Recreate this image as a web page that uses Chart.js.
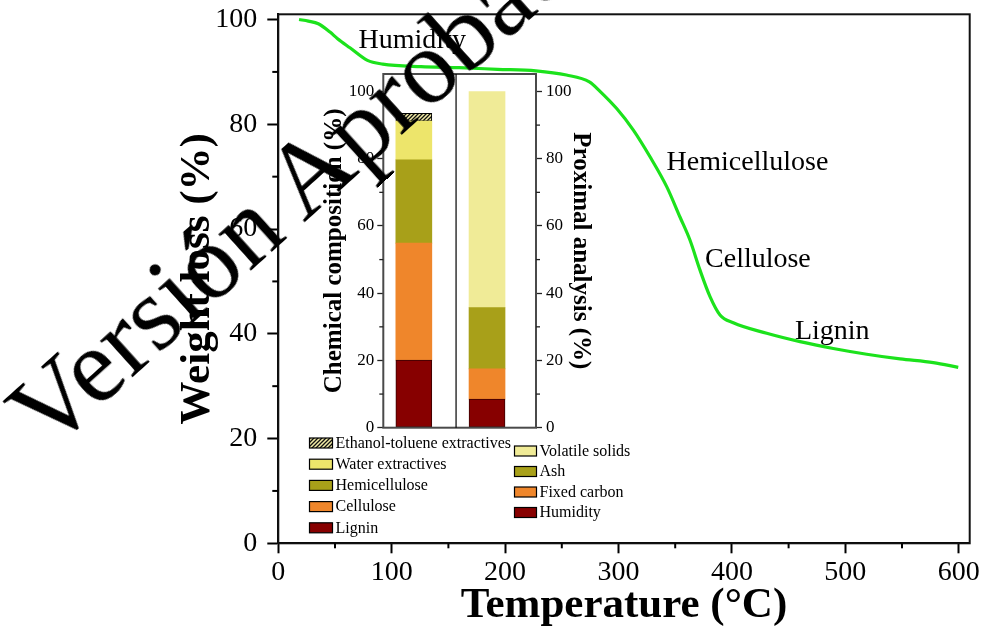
<!DOCTYPE html>
<html><head><meta charset="utf-8">
<script src="https://cdn.jsdelivr.net/npm/chart.js@4.4.1/dist/chart.umd.min.js"></script>
<style>
html,body{margin:0;padding:0;background:#fff;width:981px;height:627px;overflow:hidden;}
#wrap{position:relative;width:981px;height:627px;}
canvas{position:absolute;left:0;top:0;}
#main{z-index:1;} #inset{z-index:2;}
#wm{position:absolute;left:-11.4px;top:388px;font-family:'Liberation Serif','Times New Roman',serif;font-size:106px;line-height:106px;white-space:nowrap;transform-origin:0 0;transform:rotate(-42deg);color:#000;z-index:3;pointer-events:none;}
</style></head>
<body><div id="wrap">
<canvas id="main" width="981" height="627"></canvas>
<canvas id="inset" width="981" height="627"></canvas>
<div id="wm">Versión Aprobada</div>
</div>
<script>
// ---------- DATA ----------
const temperature = [18.3, 26.5, 35.3, 45.6, 52, 63.2, 78.6, 92.1, 125.8, 159.5, 193.3, 227.1, 254.1, 274.3, 283.7, 298.4, 313.1, 327.8, 342.5, 354.2, 363.0, 371.8, 380.7, 389.5, 401.2, 430.7, 460.1, 489.4, 518.9, 548.3, 577.6, 599.6];
const weightLoss  = [100, 99.7, 99.2, 97.6, 96.4, 94.6, 92.2, 91.5, 91.0, 90.8, 90.5, 90.2, 89.4, 88.1, 86.3, 83.0, 78.9, 73.8, 68.1, 62.3, 57.9, 52.2, 47.1, 43.6, 42.1, 40.1, 38.5, 37.2, 36.1, 35.2, 34.5, 33.6];

const stageLabels = ['Humidity', 'Hemicellulose', 'Cellulose', 'Lignin'];
const stageT = [70.8, 342.4, 376.3, 455.6];
const stageW = [94.5, 71.2, 52.8, 39.1];

const chemLabels = ['Lignin', 'Cellulose', 'Hemicellulose', 'Water extractives', 'Ethanol-toluene extractives'];
const chemValues = [20.1, 34.8, 24.8, 11.5, 2.3];
const proxLabels = ['Humidity', 'Fixed carbon', 'Ash', 'Volatile solids'];
const proxValues = [8.5, 9.0, 18.2, 64.3];
const barPositions = [1, 2];          // chemical composition bar, proximal analysis bar
const dividerX = 1.577;

const mainXTicks = [0, 100, 200, 300, 400, 500, 600];
const mainYTicks = [0, 20, 40, 60, 80, 100];
const insetYTicks = [0, 20, 40, 60, 80, 100];
const mainMinorX = [50, 150, 250, 350, 450, 550];
const mainMinorY = [10, 30, 50, 70, 90];
const insetMinorY = [10, 30, 50, 70, 90];

// ---------- STYLE ----------
const SERIF = "'Liberation Serif','Times New Roman',serif";
const chemColors = ['#870000', '#EF862B', '#A8A019', '#EDE56B', null];
const proxColors = ['#870000', '#EF862B', '#A8A019', '#F0EB97'];

function setTicks(values) {
  return function (s) { s.ticks = values.map(v => ({ value: v })); };
}

function hatchPattern(ctx) {
  const c = document.createElement('canvas');
  c.width = 4; c.height = 4;
  const g = c.getContext('2d');
  g.fillStyle = '#F3ECA6'; g.fillRect(0, 0, 4, 4);
  g.strokeStyle = '#111'; g.lineWidth = 1.3;
  g.beginPath();
  g.moveTo(0, 4); g.lineTo(4, 0);
  g.moveTo(-2, 2); g.lineTo(2, -2);
  g.moveTo(2, 6); g.lineTo(6, 2);
  g.stroke();
  return ctx.createPattern(c, 'repeat');
}

const framePlugin = {
  id: 'frame',
  afterDraw(chart, args, o) {
    const a = chart.chartArea, ctx = chart.ctx;
    ctx.save();
    ctx.strokeStyle = o.color; ctx.lineWidth = o.width;
    ctx.strokeRect(a.left, a.top, a.right - a.left, a.bottom - a.top);
    if (o.divider !== undefined) {
      const x = chart.scales.x.getPixelForValue(o.divider);
      ctx.strokeStyle = '#000'; ctx.lineWidth = 1.2;
      ctx.beginPath(); ctx.moveTo(x, a.top); ctx.lineTo(x, a.bottom); ctx.stroke();
    }
    ctx.restore();
  }
};

const minorPlugin = {
  id: 'minorTicks',
  afterDraw(chart, args, o) {
    const ctx = chart.ctx;
    ctx.save();
    ctx.strokeStyle = o.color || '#000'; ctx.lineWidth = o.width || 2;
    (o.items || []).forEach(it => {
      const s = chart.scales[it.scale];
      it.values.forEach(v => {
        const p = s.getPixelForValue(v);
        ctx.beginPath();
        if (s.isHorizontal()) { ctx.moveTo(p, s.top); ctx.lineTo(p, s.top + it.len); }
        else if (s.position === 'left') { ctx.moveTo(s.right, p); ctx.lineTo(s.right - it.len, p); }
        else { ctx.moveTo(s.left, p); ctx.lineTo(s.left + it.len, p); }
        ctx.stroke();
      });
    });
    ctx.restore();
  }
};

const stagePlugin = {
  id: 'stages',
  afterDraw(chart) {
    const ctx = chart.ctx, sx = chart.scales.x, sy = chart.scales.y;
    ctx.save();
    ctx.font = '28px ' + SERIF; ctx.fillStyle = '#000';
    ctx.textAlign = 'left'; ctx.textBaseline = 'alphabetic';
    stageLabels.forEach((t, i) => ctx.fillText(t, sx.getPixelForValue(stageT[i]), sy.getPixelForValue(stageW[i])));
    ctx.restore();
  }
};

const legendPlugin = {
  id: 'insetLegend',
  afterDraw(chart, args, o) {
    const ctx = chart.ctx;
    ctx.save();
    ctx.font = '16px ' + SERIF; ctx.textBaseline = 'middle'; ctx.textAlign = 'left';
    o.columns.forEach(col => {
      col.items.forEach((di, r) => {
        const ds = chart.data.datasets[di];
        const y = col.y0 + r * col.dy;
        ctx.fillStyle = ds.backgroundColor;
        ctx.fillRect(col.x, y - col.h / 2, col.w, col.h);
        ctx.strokeStyle = '#000'; ctx.lineWidth = 1.2;
        ctx.strokeRect(col.x, y - col.h / 2, col.w, col.h);
        ctx.fillStyle = '#000';
        ctx.fillText(ds.label, col.x + col.w + 3, y + 0.5);
      });
    });
    ctx.restore();
  }
};

// ---------- MAIN CHART ----------
new Chart(document.getElementById('main'), {
  type: 'line',
  data: { datasets: [{
    data: temperature.map((t, i) => ({ x: t, y: weightLoss[i] })),
    borderColor: 'rgb(28,226,28)', borderWidth: 3.2, pointRadius: 0,
    cubicInterpolationMode: 'monotone', fill: false
  }] },
  options: {
    responsive: false, animation: false, devicePixelRatio: 1,
    layout: { padding: { left: 0, top: 14.3, right: 11.3, bottom: 0 } },
    plugins: {
      legend: { display: false }, tooltip: { enabled: false },
      frame: { color: '#111', width: 2 },
      minorTicks: { width: 2, items: [ { scale: 'x', values: mainMinorX, len: 5 }, { scale: 'y', values: mainMinorY, len: 6 } ] }
    },
    scales: {
      x: {
        type: 'linear', min: 0, max: 609.7,
        afterBuildTicks: setTicks(mainXTicks),
        ticks: { autoSkip: false, maxRotation: 0, color: '#000', padding: 5, font: { family: SERIF, size: 28, lineHeight: 1 } },
        grid: { drawOnChartArea: false, tickLength: 10, tickColor: '#000', tickWidth: 2 },
        border: { color: '#000', width: 2 },
        title: { display: true, text: 'Temperature (°C)', color: '#000', padding: { top: 0, bottom: 0 }, font: { family: SERIF, size: 43, weight: 'bold', lineHeight: 1 } },
        afterFit(s) { s.height = 627 - 543.3; s.paddingLeft = 0; s.paddingRight = 0; }
      },
      y: {
        type: 'linear', min: 0, max: 101,
        afterBuildTicks: setTicks(mainYTicks),
        ticks: { autoSkip: false, color: '#000', padding: 10, font: { family: SERIF, size: 28, lineHeight: 1 } },
        grid: { drawOnChartArea: false, tickLength: 11, tickColor: '#000', tickWidth: 2 },
        border: { color: '#000', width: 2 },
        title: { display: true, text: 'Weight loss (%)', color: '#000', padding: { top: 176.5, bottom: 0 }, font: { family: SERIF, size: 43, weight: 'bold', lineHeight: 1 } },
        afterFit(s) { s.width = 278.3; s.paddingTop = 0; s.paddingBottom = 0; }
      }
    }
  },
  plugins: [framePlugin, minorPlugin, stagePlugin]
});

// ---------- INSET CHART ----------
const insetCanvas = document.getElementById('inset');
const hatch = hatchPattern(insetCanvas.getContext('2d'));
const insetDatasets = [];
chemLabels.forEach((lab, i) => insetDatasets.push({
  label: lab, yAxisID: 'y',
  data: [{ x: barPositions[0], y: chemValues[i] }],
  backgroundColor: chemColors[i] || hatch,
  borderColor: (i === 0) ? '#3a0000' : (i === 4 ? '#000' : 'rgba(0,0,0,0)'),
  borderWidth: (i === 0 || i === 4) ? 1 : 0,
  borderSkipped: false, barThickness: 36
}));
proxLabels.forEach((lab, i) => insetDatasets.push({
  label: lab, yAxisID: 'y2',
  data: [{ x: barPositions[1], y: proxValues[i] }],
  backgroundColor: proxColors[i],
  borderColor: (i === 0) ? '#3a0000' : 'rgba(0,0,0,0)',
  borderWidth: (i === 0) ? 1 : 0,
  borderSkipped: false, barThickness: 36
}));

const insetTickFont = { family: SERIF, size: 17, lineHeight: 1 };
new Chart(insetCanvas, {
  type: 'bar',
  data: { datasets: insetDatasets },
  options: {
    responsive: false, animation: false, devicePixelRatio: 1,
    layout: { padding: { left: 0, right: 0, top: 74, bottom: 627 - 427.7 } },
    plugins: {
      legend: { display: false }, tooltip: { enabled: false },
      frame: { color: '#4a4a4a', width: 2, divider: dividerX },
      minorTicks: { width: 1.3, color: '#222', items: [ { scale: 'y', values: insetMinorY, len: 4 }, { scale: 'y2', values: insetMinorY, len: 4 } ] },
      insetLegend: { columns: [
        { x: 309.5, w: 23, h: 10, y0: 443, dy: 21.2, items: [4, 3, 2, 1, 0] },
        { x: 514.5, w: 22, h: 10, y0: 451, dy: 20.5, items: [8, 7, 6, 5] }
      ] }
    },
    scales: {
      x: { type: 'linear', display: false, min: 0.583, max: 2.669, stacked: true, offset: false },
      y: {
        position: 'left', stacked: true, min: 0, max: 105.2,
        afterBuildTicks: setTicks(insetYTicks),
        ticks: { padding: 3, color: '#000', font: insetTickFont },
        grid: { drawOnChartArea: false, tickLength: 6, tickColor: '#222', tickWidth: 1.3 },
        border: { display: false },
        title: { display: true, text: 'Chemical composition (%)', color: '#000', padding: { top: 322.5, bottom: 0 }, font: { family: SERIF, size: 25, weight: 'bold', lineHeight: 1 } },
        afterFit(s) { s.width = 383.3; s.paddingTop = 0; s.paddingBottom = 0; }
      },
      y2: {
        position: 'right', stacked: true, min: 0, max: 105.2,
        afterBuildTicks: setTicks(insetYTicks),
        ticks: { padding: 4, color: '#000', font: insetTickFont },
        grid: { drawOnChartArea: false, tickLength: 6, tickColor: '#222', tickWidth: 1.3 },
        border: { display: false },
        title: { display: true, text: 'Proximal analysis (%)', color: '#000', padding: { top: 388.5, bottom: 0 }, font: { family: SERIF, size: 25, weight: 'bold', lineHeight: 1 } },
        afterFit(s) { s.width = 981 - 536; s.paddingTop = 0; s.paddingBottom = 0; }
      }
    }
  },
  plugins: [framePlugin, minorPlugin, legendPlugin]
});
</script>
</body></html>
